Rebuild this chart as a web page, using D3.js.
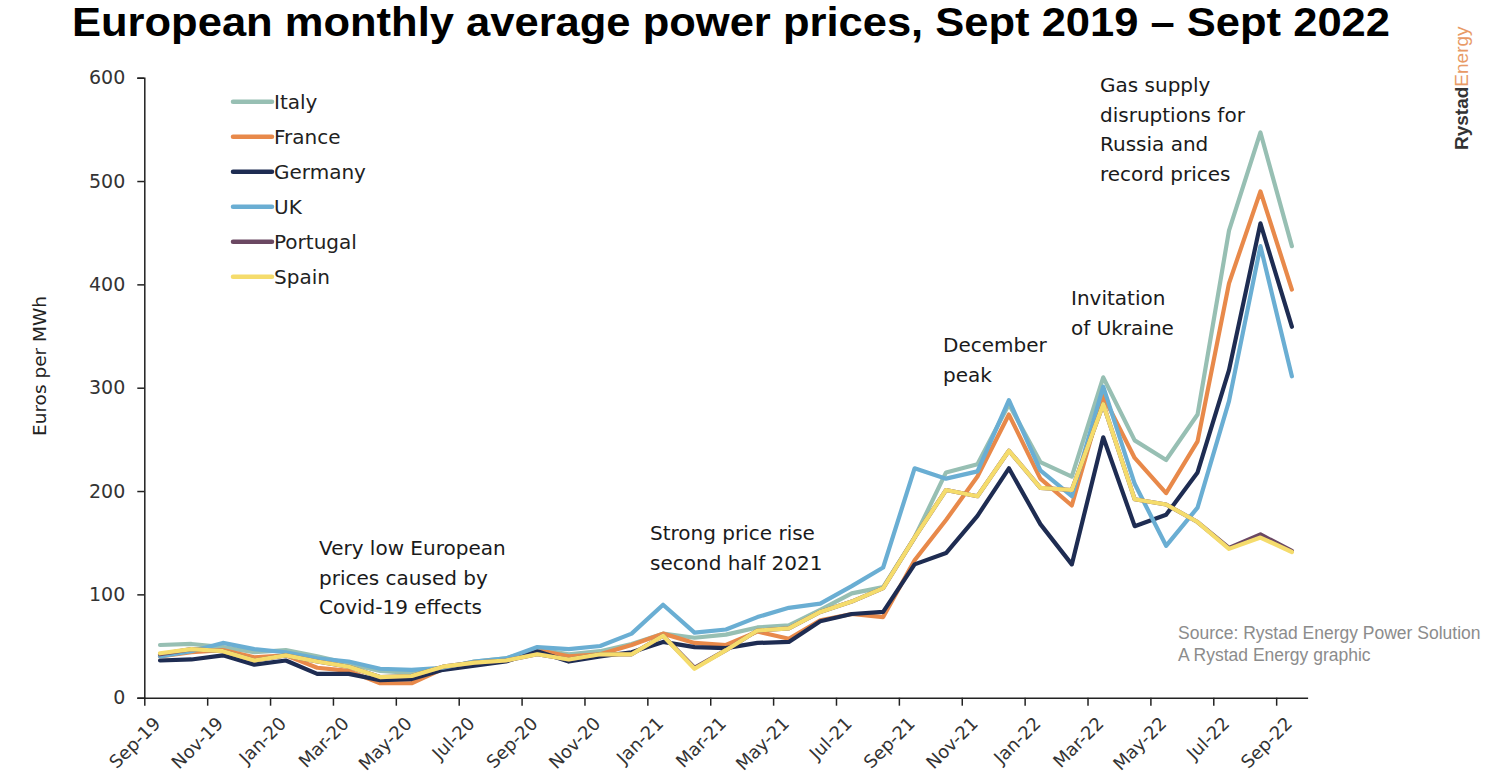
<!DOCTYPE html>
<html lang="en">
<head>
    <meta charset="UTF-8">
    <title>European monthly average power prices</title>
    <script src="https://d3js.org/d3.v7.min.js"></script>
    <style>
        body { margin: 0; background: #fff; }
        svg { display: block; font-family: "DejaVu Sans", sans-serif; }
    </style>
</head>
<body>
    <div id="chart"></div>

    <script>
        // Months Sep-19 .. Sep-22
        const months = ['Sep-19','Oct-19','Nov-19','Dec-19','Jan-20','Feb-20','Mar-20','Apr-20','May-20','Jun-20',
            'Jul-20','Aug-20','Sep-20','Oct-20','Nov-20','Dec-20','Jan-21','Feb-21','Mar-21','Apr-21','May-21',
            'Jun-21','Jul-21','Aug-21','Sep-21','Oct-21','Nov-21','Dec-21','Jan-22','Feb-22','Mar-22','Apr-22',
            'May-22','Jun-22','Jul-22','Aug-22','Sep-22'];

        // EUR/MWh
        const italy = [51, 52, 49, 44, 46, 40, 33, 26, 24, 28, 35, 38, 47, 42, 45, 52, 62, 58, 61, 68, 70,
            85, 101, 107, 155, 218, 226, 284, 228, 214, 310, 249, 230, 274, 452, 547, 437];
        const france = [40, 44, 46, 39, 41, 29, 26, 14, 14, 28, 34, 37, 46, 40, 42, 51, 62, 53, 51, 64, 57,
            75, 81, 78, 133, 172, 214, 274, 212, 186, 292, 232, 198, 248, 401, 490, 395];
        const germany = [36, 37, 41, 32, 36, 23, 23, 17, 18, 27, 31, 35, 45, 35, 40, 44, 54, 49, 48, 53, 54,
            74, 81, 83, 129, 140, 176, 222, 168, 129, 252, 166, 177, 218, 317, 459, 359];
        const uk = [40, 45, 53, 47, 44, 38, 35, 28, 27, 29, 35, 38, 49, 47, 50, 62, 90, 63, 66, 78, 87,
            91, 108, 126, 222, 212, 219, 288, 220, 195, 301, 207, 147, 184, 287, 437, 311];
        const portugal = [42, 47, 45, 36, 41, 35, 30, 20, 21, 30, 34, 36, 42, 37, 42, 42, 60, 29, 46, 65, 67,
            83, 93, 106, 155, 201, 195, 239, 203, 201, 284, 192, 187, 170, 145, 158, 142];
        const spain = [43, 47, 45, 36, 41, 35, 30, 20, 21, 30, 34, 36, 42, 37, 42, 42, 60, 28, 46, 65, 67,
            83, 93, 106, 155, 201, 195, 239, 203, 201, 284, 192, 187, 170, 144, 155, 141];

        const yTicks = [0, 100, 200, 300, 400, 500, 600];

        const series = [
            { name: 'Italy', values: italy, color: '#97bfb3' },
            { name: 'France', values: france, color: '#e8894a' },
            { name: 'Germany', values: germany, color: '#1e2c52' },
            { name: 'UK', values: uk, color: '#6aaed3' },
            { name: 'Portugal', values: portugal, color: '#6b4862' },
            { name: 'Spain', values: spain, color: '#f5dc6c' }
        ];

        const width = 1492, height = 784;
        const svg = d3.select('#chart').append('svg')
            .attr('width', width)
            .attr('height', height);

        // category axis: ticks on boundaries, points in the middle
        const x = d3.scaleLinear().domain([0, months.length]).range([144.3, 1307.6]);
        const y = d3.scaleLinear().domain([0, 600]).range([697.7, 77.7]);

        // title
        svg.append('text')
            .attr('x', 72).attr('y', 36)
            .attr('textLength', 1318).attr('lengthAdjust', 'spacingAndGlyphs')
            .style('font-family', '"Liberation Sans", Arial, sans-serif')
            .style('font-size', '40px').style('font-weight', 'bold').style('fill', '#000')
            .text('European monthly average power prices, Sept 2019 \u2013 Sept 2022');

        // y axis
        const yAxis = svg.append('g')
            .attr('transform', `translate(${x(0)},0)`)
            .call(d3.axisLeft(y).tickValues(yTicks).tickSize(7).tickPadding(12));
        yAxis.selectAll('text').style('font-size', '19px').style('fill', '#333')
            .style('font-family', '"DejaVu Sans", sans-serif');
        yAxis.selectAll('line, path').attr('stroke', '#222').attr('stroke-width', 1.5);

        svg.append('text')
            .attr('transform', 'translate(46,366) rotate(-90)')
            .attr('text-anchor', 'middle')
            .style('font-size', '18.5px').style('fill', '#222')
            .text('Euros per MWh');

        // x axis: tick marks every second month
        const evens = d3.range(0, months.length, 2);
        const xAxis = svg.append('g')
            .attr('transform', `translate(0,${y(0)})`)
            .call(d3.axisBottom(x).tickValues(evens).tickSize(8).tickSizeOuter(0).tickFormat(''));
        xAxis.selectAll('line, path').attr('stroke', '#222').attr('stroke-width', 1.5);

        // labels at category centres
        const xLabels = svg.append('g')
            .attr('transform', `translate(0,${y(0)})`)
            .call(d3.axisBottom(x).tickValues(evens.map(i => i + 0.5)).tickSize(0)
                .tickFormat(d => months[d - 0.5]));
        xLabels.select('.domain').remove();
        xLabels.selectAll('text')
            .style('font-size', '18px').style('fill', '#333')
            .style('font-family', '"DejaVu Sans", sans-serif')
            .attr('text-anchor', 'end')
            .attr('dy', 0).attr('y', 0)
            .attr('transform', 'translate(1,27) rotate(-45)');

        // lines
        const line = d3.line()
            .x((d, i) => x(i + 0.5))
            .y(d => y(d));

        svg.append('g').selectAll('path')
            .data(series)
            .enter().append('path')
            .attr('d', d => line(d.values))
            .attr('fill', 'none')
            .attr('stroke', d => d.color)
            .attr('stroke-width', 4.2)
            .attr('stroke-linejoin', 'round')
            .attr('stroke-linecap', 'round');

        // legend
        const legend = svg.append('g').selectAll('g')
            .data(series)
            .enter().append('g')
            .attr('transform', (d, i) => `translate(233,${101.7 + i * 35})`);
        legend.append('line')
            .attr('x1', 0).attr('x2', 39)
            .attr('stroke', d => d.color).attr('stroke-width', 4.5).attr('stroke-linecap', 'round');
        legend.append('text')
            .attr('x', 41).attr('dy', '0.36em')
            .style('font-size', '20px').style('fill', '#222')
            .text(d => d.name);

        // annotations
        const notes = [
            { x: 319, y: 555, lines: ['Very low European', 'prices caused by', 'Covid-19 effects'] },
            { x: 650, y: 540, lines: ['Strong price rise', 'second half 2021'] },
            { x: 943, y: 352, lines: ['December', 'peak'] },
            { x: 1071, y: 305, lines: ['Invitation', 'of Ukraine'] },
            { x: 1100, y: 92, lines: ['Gas supply', 'disruptions for', 'Russia and', 'record prices'] }
        ];
        notes.forEach(n => {
            const t = svg.append('text')
                .attr('x', n.x).attr('y', n.y)
                .style('font-size', '20px').style('fill', '#1a1a1a');
            n.lines.forEach((l, i) => {
                t.append('tspan').attr('x', n.x).attr('dy', i === 0 ? 0 : 29.7).text(l);
            });
        });

        // source
        svg.append('text')
            .attr('x', 1178).attr('y', 639)
            .style('font-family', '"Liberation Sans", Arial, sans-serif')
            .style('font-size', '17.5px').style('fill', '#8c8c8c')
            .text('Source: Rystad Energy Power Solution');
        svg.append('text')
            .attr('x', 1178).attr('y', 661)
            .style('font-family', '"Liberation Sans", Arial, sans-serif')
            .style('font-size', '17.5px').style('fill', '#8c8c8c')
            .text('A Rystad Energy graphic');

        // logo
        const logo = svg.append('text')
            .attr('transform', 'translate(1468,150) rotate(-90)')
            .style('font-family', '"Liberation Sans", Arial, sans-serif')
            .style('font-size', '19px');
        logo.append('tspan').style('font-weight', 'bold').style('fill', '#333').text('Rystad');
        logo.append('tspan').style('fill', '#e89a66').text('Energy');
    </script>
</body>
</html>
